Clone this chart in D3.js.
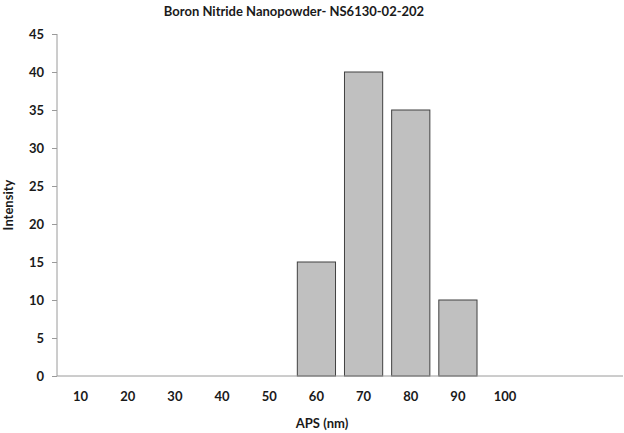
<!DOCTYPE html>
<html><head><meta charset="utf-8">
<script src="https://cdn.jsdelivr.net/npm/d3@7/dist/d3.min.js"></script>
<style>body{margin:0;background:#fff}svg{display:block}text{font-family:Lato,"Open Sans",sans-serif;font-weight:bold;fill:#1a1a1a}</style>
</head><body>
<script>
const categories = ["10","20","30","40","50","60","70","80","90","100"];
const values = [0,0,0,0,0,15,40,35,10,0];
const extraSlots = ["_a","_b"];
const yTicks = [0,5,10,15,20,25,30,35,40,45];
const title = "Boron Nitride Nanopowder- NS6130-02-202";

const W=624,H=433;
const svg=d3.select("body").append("svg").attr("width",W).attr("height",H);
const x=d3.scaleBand().domain(categories.concat(extraSlots)).range([57,623]).paddingInner(0.19).paddingOuter(0.095);
const y=d3.scaleLinear().domain([0,45]).range([376,34]);

// bars
svg.selectAll("rect.bar").data(categories.map((c,i)=>({c,v:values[i]})).filter(d=>d.v>0))
 .enter().append("rect").attr("class","bar")
 .attr("x",d=>x(d.c)).attr("width",x.bandwidth())
 .attr("y",d=>y(d.v)).attr("height",d=>y(0)-y(d.v))
 .attr("fill","#c0c0c0").attr("stroke","#404040").attr("stroke-width",1);

// y axis
const ya=svg.append("g").attr("transform","translate(57,0)")
 .call(d3.axisLeft(y).tickValues(yTicks).tickSize(5).tickPadding(8));
ya.select(".domain").attr("stroke","#9a9a9a").attr("d","M0,34V376");
ya.selectAll(".tick line").attr("stroke","#9a9a9a");
ya.selectAll(".tick text").attr("font-size",13).style("fill","#1a1a1a");

// x axis
const xa=svg.append("g").attr("transform","translate(0,376)")
 .call(d3.axisBottom(x).tickValues(categories).tickSize(0).tickPadding(16));
xa.select(".domain").attr("stroke","#9a9a9a").attr("d","M57,0H623");
xa.selectAll(".tick text").attr("font-size",13).style("fill","#1a1a1a");

svg.append("text").attr("x",294).attr("y",16).attr("text-anchor","middle").attr("font-size",13).text(title);
svg.append("text").attr("x",322).attr("y",428).attr("text-anchor","middle").attr("font-size",13).text("APS (nm)");
svg.append("text").attr("transform","translate(13,205) rotate(-90)").attr("text-anchor","middle").attr("font-size",13).text("Intensity");
</script>
</body></html>
